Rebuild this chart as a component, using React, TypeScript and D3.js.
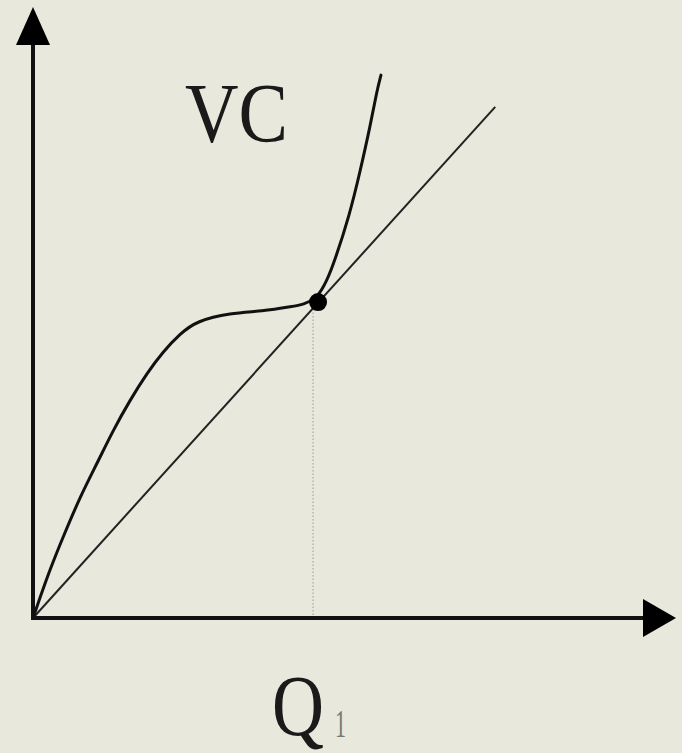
import React from "react";
import * as d3 from "d3";

// VC curve (quantity, cost), arbitrary units 0..100
const vcQ = [0, 2.6, 4.7, 7.3, 10.0, 12.5, 15.1, 17.8, 20.2, 22.9, 25.5, 30.7, 35.8, 40.0, 44.4, 46.7, 49.4, 50.9, 52.5, 53.6, 54.2];
const vcCost = [0, 7.9, 13.3, 19.8, 25.4, 30.8, 35.7, 40.2, 43.6, 46.6, 48.7, 50.0, 50.3, 51.0, 51.8, 57.5, 66.4, 73.0, 80.5, 86.6, 89.0];

// ray from the origin through the tangent point
const rayQ = [0, 72.0];
const rayCost = [0, 83.8];

// tangent point
const q1 = 44.4;
const q1Cost = 51.8;

const labels = { curve: "VC", q: "Q", sub: "1" };

const W = 682;
const H = 753;

export default function App() {
  const x = d3.scaleLinear().domain([0, 100]).range([33, 675]);
  const y = d3.scaleLinear().domain([0, 100]).range([618, 8]);

  const line = d3
    .line<number>()
    .x((d, i) => x(vcQ[i]))
    .y((d) => y(d))
    .curve(d3.curveBasis);

  const ray = d3
    .line<number>()
    .x((d, i) => x(rayQ[i]))
    .y((d) => y(d));

  const x0 = x(0);
  const y0 = y(0);
  const xEnd = x(100);
  const yEnd = y(100);

  return (
    <svg
      width={W}
      height={H}
      style={{ position: "absolute", left: 0, top: 0, background: "#e8e8dc" }}
    >
      <rect width={W} height={H} fill="#e8e8dc" />
      {/* dotted drop line */}
      <line
        x1={x(q1) - 5}
        x2={x(q1) - 5}
        y1={y(q1Cost)}
        y2={y0}
        stroke="#9a9a92"
        strokeWidth={1}
        strokeDasharray="1.5,2"
      />
      {/* ray */}
      <path d={ray(rayCost) || ""} fill="none" stroke="#222" strokeWidth={2} />
      {/* VC curve */}
      <path d={line(vcCost) || ""} fill="none" stroke="#111" strokeWidth={3} strokeLinecap="round" />
      <circle cx={x(q1)} cy={y(q1Cost)} r={9} fill="#000" />
      {/* axes */}
      <line x1={x0} x2={x0} y1={y0 + 2} y2={40} stroke="#111" strokeWidth={4} />
      <line x1={x0 - 2} x2={646} y1={y0} y2={y0} stroke="#111" strokeWidth={4} />
      <polygon points={`${x0},${yEnd - 1} ${x0 - 17},${45} ${x0 + 17},${45}`} fill="#000" />
      <polygon points={`${xEnd + 1},${y0} ${643},${y0 - 19} ${643},${y0 + 19}`} fill="#000" />
      {/* labels */}
      <text
        x={185}
        y={142}
        fontFamily="'Liberation Serif', 'Times New Roman', serif"
        fontSize={84}
        fill="#1a1a1a"
        textLength={103}
        lengthAdjust="spacingAndGlyphs"
      >
        {labels.curve}
      </text>
      <text
        x={272}
        y={735}
        fontFamily="'Liberation Serif', 'Times New Roman', serif"
        fontSize={86}
        fill="#1a1a1a"
        textLength={52}
        lengthAdjust="spacingAndGlyphs"
      >
        {labels.q}
      </text>
      <text
        x={335}
        y={737}
        fontFamily="'Liberation Serif', 'Times New Roman', serif"
        fontSize={40}
        fill="#7a7a74"
        textLength={11}
        lengthAdjust="spacingAndGlyphs"
      >
        {labels.sub}
      </text>
    </svg>
  );
}
